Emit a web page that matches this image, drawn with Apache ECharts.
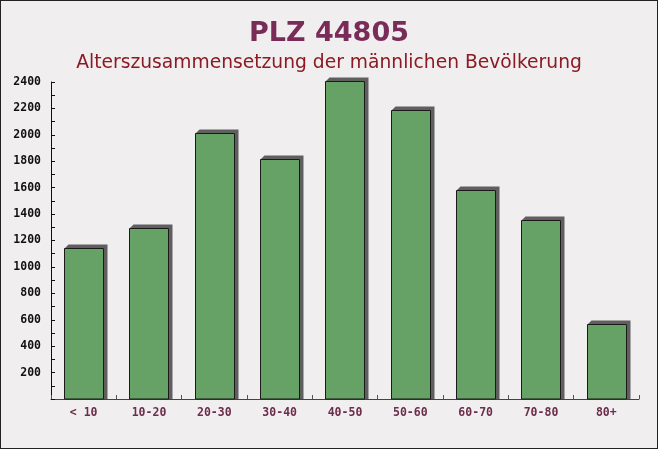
<!DOCTYPE html>
<html>
<head>
<meta charset="utf-8">
<script src="https://cdn.jsdelivr.net/npm/echarts@6/dist/echarts.min.js"></script>
<style>
html,body{margin:0;padding:0;background:#f1eef0;}
#c{width:656px;height:447px;border:1px solid #222;}
</style>
</head>
<body>
<div id="c"></div>
<script>
const categories = ['< 10','10-20','20-30','30-40','40-50','50-60','60-70','70-80','80+'];
const values = [1145, 1295, 2015, 1815, 2405, 2190, 1583, 1356, 567];
const yTicks = {min: 0, max: 2400, interval: 200};
const titleText = 'PLZ 44805';
const subtitleText = 'Alterszusammensetzung der männlichen Bevölkerung';

const chart = echarts.init(document.getElementById('c'), null, {renderer: 'canvas'});
const depth = 4;
chart.setOption({
  backgroundColor: '#f1eef0',
  animation: false,
  title: [
    {text: titleText, left: 'center', top: 14,
     textStyle: {color: '#7a2c58', fontSize: 27, fontWeight: 'bold', fontFamily: 'DejaVu Sans'}},
    {text: subtitleText, left: 'center', top: 48,
     textStyle: {color: '#8c1a22', fontSize: 18.7, fontWeight: 'normal', fontFamily: 'DejaVu Sans'}}
  ],
  grid: {left: 50, right: 18, top: 81, bottom: 49, containLabel: false},
  xAxis: {
    type: 'category', data: categories,
    axisLine: {lineStyle: {color: '#6b2d4a', width: 1}},
    axisTick: {show: true, inside: true, length: 4, lineStyle: {color: '#555'}},
    axisLabel: {color: '#6b2d4a', fontFamily: 'DejaVu Sans Mono', fontWeight: 'bold', fontSize: 11.5, margin: 8}
  },
  yAxis: {
    type: 'value', min: yTicks.min, max: yTicks.max, interval: yTicks.interval,
    axisLine: {show: true, lineStyle: {color: '#111', width: 1}},
    axisTick: {show: true, inside: true, length: 4, lineStyle: {color: '#111'}},
    minorTick: {show: true, splitNumber: 2, length: 4, lineStyle: {color: '#111'}},
    splitLine: {show: false},
    axisLabel: {color: '#111', fontFamily: 'DejaVu Sans Mono', fontWeight: 'bold', fontSize: 11.5, margin: 10,
      formatter: v => v === 0 ? '' : String(v)}
  },
  series: [{
    type: 'custom',
    data: values.map((v, i) => [i, v]),
    encode: {x: 0, y: 1},
    renderItem: function (params, api) {
      const idx = api.value(0), v = api.value(1);
      const top = api.coord([idx, v]);
      const base = api.coord([idx, 0]);
      const w = api.size([1, 0])[0] * 0.6;
      const x0 = Math.round(top[0] - w / 2) + 0.5;
      const x1 = x0 + Math.round(w);
      const yt = Math.round(top[1]) + 0.5;
      const yb = base[1];
      return {
        type: 'group',
        children: [
          {type: 'polygon', shape: {points: [[x0, yt], [x0 + depth, yt - depth], [x1 + depth, yt - depth], [x1 + depth, yb], [x1, yb], [x1, yt]]},
           style: {fill: 'rgba(75,75,75,0.88)'}},
          {type: 'rect', shape: {x: x0, y: yt, width: x1 - x0, height: yb - yt},
           style: {fill: 'rgba(92,156,92,0.94)', stroke: '#1a1a1a', lineWidth: 1}}
        ]
      };
    }
  }]
});
</script>
</body>
</html>
